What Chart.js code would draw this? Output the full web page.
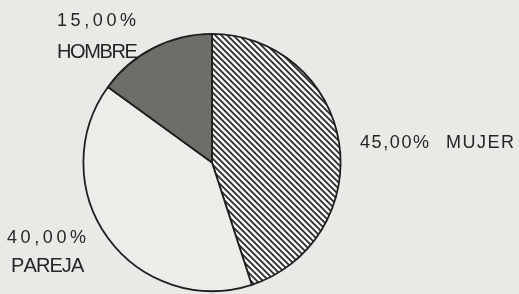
<!DOCTYPE html>
<html>
<head>
<meta charset="utf-8">
<script src="https://cdn.jsdelivr.net/npm/chart.js"></script>
<style>
  html, body { margin: 0; padding: 0; background: #e9eae5; }
  canvas { display: block; }
</style>
</head>
<body>
<canvas id="pie" width="519" height="294"></canvas>
<script>
// Chart data
const categories = ["MUJER", "PAREJA", "HOMBRE"];
const shares = [45, 40, 15];
const valueLabels = ["45,00%", "40,00%", "15,00%"];

// Diagonal hatch fill for the first slice
function makeHatch() {
  const c = document.createElement("canvas");
  c.width = 6;
  c.height = 6;
  const g = c.getContext("2d");
  g.fillStyle = "#f4f4f0";
  g.fillRect(0, 0, 6, 6);
  g.strokeStyle = "#2a2a2a";
  g.lineWidth = 1.7;
  g.beginPath();
  g.moveTo(-1, -1); g.lineTo(7, 7);
  g.moveTo(-4, 2); g.lineTo(1, 7);
  g.moveTo(5, -1); g.lineTo(10, 4);
  g.stroke();
  return g.createPattern(c, "repeat");
}

// Draw text with extra spacing between characters
function spaced(ctx, text, x, y, gap) {
  let cx = x;
  for (const ch of text) {
    ctx.fillText(ch, cx, y);
    cx += ctx.measureText(ch).width + gap;
  }
}

const labelPlugin = {
  id: "sliceLabels",
  afterDraw(chart) {
    const ctx = chart.ctx;
    ctx.save();
    ctx.fillStyle = "#262624";
    ctx.textBaseline = "alphabetic";
    ctx.textAlign = "left";
    const pct = "18px 'Liberation Sans', Arial, sans-serif";
    const name = "20px 'Liberation Sans', Arial, sans-serif";
    // HOMBRE
    ctx.font = pct;
    spaced(ctx, valueLabels[2], 57, 26, 3.6);
    ctx.font = name;
    spaced(ctx, categories[2], 57, 58, -1.4);
    // PAREJA
    ctx.font = pct;
    spaced(ctx, valueLabels[1], 7, 243, 3.6);
    ctx.font = name;
    spaced(ctx, categories[1], 11, 272, -0.9);
    // MUJER
    ctx.font = pct;
    spaced(ctx, valueLabels[0], 360, 148, 1.6);
    spaced(ctx, categories[0], 446, 148, 1.5);
    ctx.restore();
  }
};

function main() {
  const ctx = document.getElementById("pie").getContext("2d");
  new Chart(ctx, {
    type: "pie",
    data: {
      labels: categories,
      datasets: [{
        data: shares,
        backgroundColor: [makeHatch(), "#ecede8", "#6d6e68"],
        borderColor: "#1f1f1f",
        borderWidth: 1.8
      }]
    },
    options: {
      responsive: false,
      animation: false,
      layout: { padding: { left: 82, right: 177, top: 33, bottom: 2 } },
      plugins: {
        legend: { display: false },
        tooltip: { enabled: false }
      }
    },
    plugins: [labelPlugin]
  });
}

main();
</script>
</body>
</html>
